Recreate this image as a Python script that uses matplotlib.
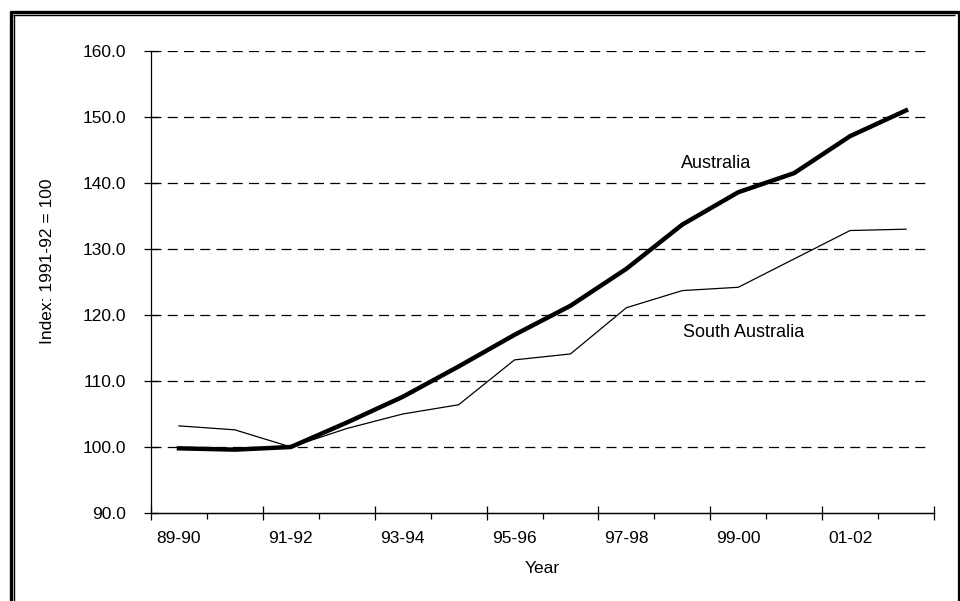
import matplotlib.pyplot as plt
import matplotlib as mpl
from matplotlib.lines import Line2D
from matplotlib.ticker import FixedLocator, NullFormatter

mpl.rcParams['font.family'] = 'sans-serif'
mpl.rcParams['font.sans-serif'] = ['Liberation Sans', 'DejaVu Sans']
mpl.rcParams['font.size'] = 12.5

# financial years and index values (1991-92 = 100)
years = ['89-90', '90-91', '91-92', '92-93', '93-94', '94-95', '95-96',
         '96-97', '97-98', '98-99', '99-00', '00-01', '01-02', '02-03']
australia = [99.8, 99.6, 100.0, 103.7, 107.6, 112.2, 117.0,
             121.4, 127.0, 133.7, 138.6, 141.5, 147.1, 151.0]
south_australia = [103.2, 102.6, 100.0, 102.8, 105.0, 106.4, 113.2,
                   114.1, 121.1, 123.7, 124.2, 128.5, 132.8, 133.0]

fig = plt.figure(figsize=(9.6, 6.01), dpi=100, facecolor='white')
ax = fig.add_axes([151 / 960, 1 - 513 / 601, 783 / 960, 462 / 601])

x = list(range(len(years)))
ax.plot(x, australia, color='black', lw=3.2, solid_joinstyle='round', zorder=3)
ax.plot(x, south_australia, color='black', lw=0.9, zorder=3)

ax.set_xlim(-0.5, len(years) - 0.5)
ax.set_ylim(90, 160)

# y axis
ax.set_yticks(range(90, 161, 10))
ax.set_yticklabels([f'{v:.1f}' for v in range(90, 161, 10)])
ax.tick_params(axis='y', direction='inout', length=10, width=0.9, pad=13)
for v in range(100, 161, 10):
    ax.axhline(v, xmin=0, xmax=0.99, color='black', lw=0.9,
               dashes=(8, 5), zorder=1)

# x axis: labels on every second year, ticks between categories
ax.set_xticks(x[::2])
ax.set_xticklabels(years[::2])
ax.tick_params(axis='x', length=0, pad=13)
sec = ax.secondary_xaxis(0)
sec.xaxis.set_major_locator(FixedLocator([i - 0.5 for i in range(0, len(years) + 1, 2)]))
sec.xaxis.set_minor_locator(FixedLocator([i - 0.5 for i in range(1, len(years), 2)]))
sec.xaxis.set_major_formatter(NullFormatter())
sec.tick_params(which='major', direction='inout', length=10, width=0.9)
sec.tick_params(which='minor', direction='out', length=4, width=0.9)
sec.spines['bottom'].set_linewidth(0.9)

for side in ['top', 'right']:
    ax.spines[side].set_visible(False)
for side in ['left', 'bottom']:
    ax.spines[side].set_linewidth(0.9)

ax.set_xlabel('Year', labelpad=11)
ax.set_ylabel('Index: 1991-92 = 100')
ax.yaxis.set_label_coords(-0.123, 0.545)

# series labels
ax.text(9.6, 143.0, 'Australia', ha='center', va='center', fontsize=13)
ax.text(10.1, 117.3, 'South Australia', ha='center', va='center', fontsize=13)

# double frame around the chart
W, H = 960, 601
def fline(xs, ys, lw):
    fig.add_artist(Line2D([p / W for p in xs], [1 - p / H for p in ys],
                          transform=fig.transFigure, color='black', lw=lw,
                          solid_capstyle='butt'))

fline([10.5, 10.5], [11, 601], 2.4)
fline([9.5, 960], [11.5, 11.5], 2.4)
fline([13.8, 13.8], [14.5, 601], 1.0)
fline([13.3, 955], [14.8, 14.8], 1.0)
fline([958.5, 958.5], [12, 601], 1.6)

fig.savefig('out.png', dpi=100, facecolor='white')
